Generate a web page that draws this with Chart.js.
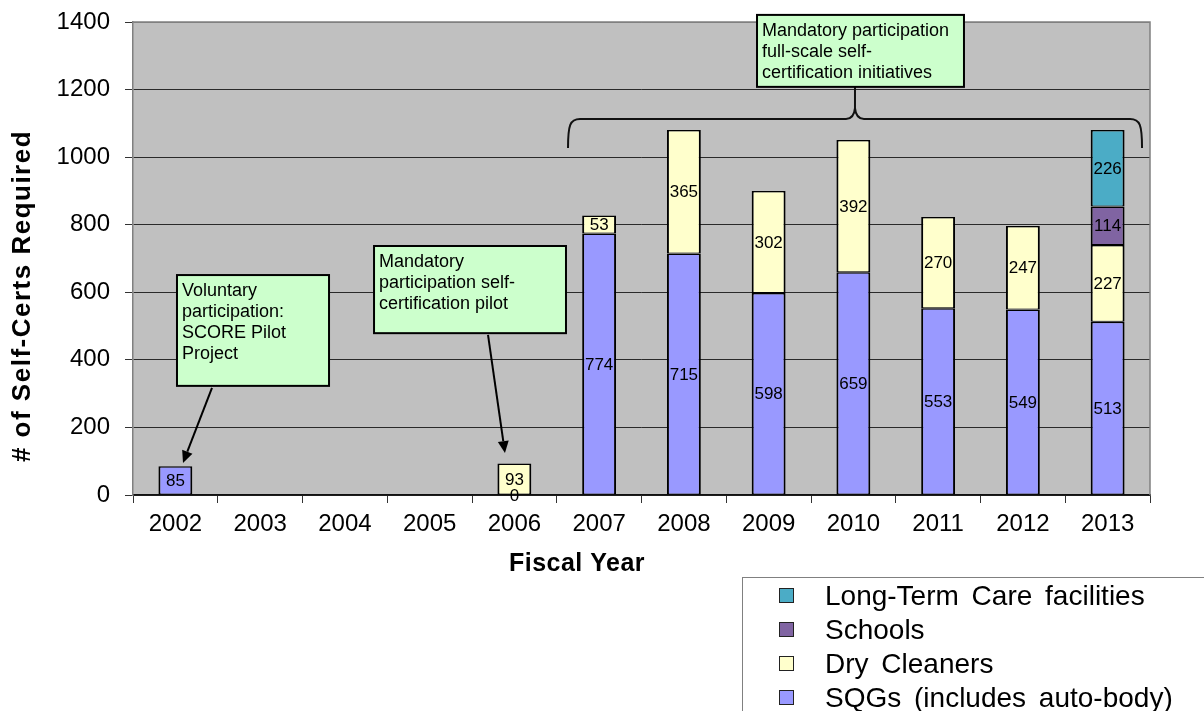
<!DOCTYPE html>
<html>
<head>
<meta charset="utf-8">
<script src="https://cdn.jsdelivr.net/npm/chart.js@4.4.1/dist/chart.umd.min.js"></script>
<style>
html,body{margin:0;padding:0;background:#fff;}
#wrap{width:1204px;height:711px;position:relative;}
</style>
</head>
<body>
<div id="wrap"><canvas id="c"></canvas></div>
<script>
// ---- data ----
const categories = ['2002','2003','2004','2005','2006','2007','2008','2009','2010','2011','2012','2013'];
const sqgs        = [85, null, null, null, 0, 774, 715, 598, 659, 553, 549, 513];
const dryCleaners = [null, null, null, null, 93, 53, 365, 302, 392, 270, 247, 227];
const schools     = [null, null, null, null, null, null, null, null, null, null, null, 114];
const longTerm    = [null, null, null, null, null, null, null, null, null, null, null, 226];
const seriesNames = ['SQGs (includes auto-body)', 'Dry Cleaners', 'Schools', 'Long-Term Care facilities'];
const seriesColors = ['#9999FF', '#FFFFCC', '#8064A2', '#4BACC6'];
const yTickMin = 0, yTickMax = 1400, yTickStep = 200;
const yTitle = '# of Self-Certs Required';
const xTitle = 'Fiscal Year';

// annotations in data units (x: category index, y: value)
const callouts = [
  { lines: ['Voluntary', 'participation:', 'SCORE Pilot', 'Project'], x0: 0.019, x1: 1.813, yTop: 651, yBot: 323 },
  { lines: ['Mandatory', 'participation self-', 'certification pilot'], x0: 2.344, x1: 4.609, yTop: 737, yBot: 479 },
  { lines: ['Mandatory participation', 'full-scale self-', 'certification initiatives'], x0: 6.863, x1: 9.305, yTop: 1421, yBot: 1208 }
];
const arrows = [
  { fx: 0.432, fy: 317, tx: 0.09, ty: 95 },
  { fx: 3.689, fy: 474, tx: 3.889, ty: 124 }
];
const brace = { left: 4.633, right: 11.406, center: 8.019, yLine: 1113, yEnd: 1027, yCusp: 1145, yTop: 1208 };

const FONT = "'Liberation Sans', Arial, sans-serif";

const drawPlugin = {
  id: 'drawPlugin',
  beforeDraw(chart) {
    const { ctx, chartArea: a } = chart;
    ctx.save();
    ctx.fillStyle = '#ffffff';
    ctx.fillRect(0, 0, chart.width, chart.height);
    ctx.fillStyle = '#C0C0C0';
    ctx.fillRect(a.left, a.top, a.right - a.left, a.bottom - a.top);
    ctx.restore();
  },
  beforeDatasetsDraw(chart) {
    const { ctx, chartArea: a } = chart;
    ctx.save();
    ctx.strokeStyle = '#808080';
    ctx.lineWidth = 1.5;
    ctx.beginPath();
    ctx.moveTo(a.left, a.top);
    ctx.lineTo(a.right, a.top);
    ctx.lineTo(a.right, a.bottom);
    ctx.stroke();
    ctx.restore();
  },
  afterDatasetsDraw(chart) {
    const { ctx } = chart;
    ctx.save();
    ctx.font = '17px ' + FONT;
    ctx.fillStyle = '#000';
    ctx.textAlign = 'center';
    ctx.textBaseline = 'middle';
    chart.data.datasets.forEach((ds, di) => {
      const meta = chart.getDatasetMeta(di);
      meta.data.forEach((el, i) => {
        const v = ds.data[i];
        if (v === null || v === undefined) return;
        const p = el.getProps(['x', 'y', 'base'], true);
        ctx.fillText(String(v), p.x, (p.y + p.base) / 2 + 1);
      });
    });
    ctx.restore();
  },
  afterDraw(chart) {
    const { ctx } = chart;
    const xs = chart.scales.x, ys = chart.scales.y;
    const px = v => xs.getPixelForValue(v);
    const py = v => ys.getPixelForValue(v);
    ctx.save();

    // brace
    const L = px(brace.left), R = px(brace.right), C = px(brace.center);
    const yl = py(brace.yLine), ye = py(brace.yEnd), yc = py(brace.yCusp), yt = py(brace.yTop);
    ctx.strokeStyle = '#111';
    ctx.lineWidth = 2;
    ctx.beginPath();
    ctx.moveTo(L, ye);
    ctx.bezierCurveTo(L, yl + 6, L + 2, yl, L + 12, yl);
    ctx.lineTo(C - 9, yl);
    ctx.quadraticCurveTo(C - 1, yl, C, yc);
    ctx.lineTo(C, yt);
    ctx.moveTo(C, yc);
    ctx.quadraticCurveTo(C + 1, yl, C + 9, yl);
    ctx.lineTo(R - 12, yl);
    ctx.bezierCurveTo(R - 2, yl, R, yl + 6, R, ye);
    ctx.stroke();

    // arrows
    arrows.forEach(ar => {
      const x1 = px(ar.fx), y1 = py(ar.fy), x2 = px(ar.tx), y2 = py(ar.ty);
      const ang = Math.atan2(y2 - y1, x2 - x1);
      const hl = 12, hw = 5.5;
      const bx = x2 - hl * Math.cos(ang), by = y2 - hl * Math.sin(ang);
      ctx.strokeStyle = '#000';
      ctx.lineWidth = 2;
      ctx.beginPath();
      ctx.moveTo(x1, y1);
      ctx.lineTo(bx, by);
      ctx.stroke();
      ctx.fillStyle = '#000';
      ctx.beginPath();
      ctx.moveTo(x2, y2);
      ctx.lineTo(bx + hw * Math.sin(ang), by - hw * Math.cos(ang));
      ctx.lineTo(bx - hw * Math.sin(ang), by + hw * Math.cos(ang));
      ctx.closePath();
      ctx.fill();
    });

    // callout boxes
    callouts.forEach(cb => {
      const x0 = px(cb.x0), x1 = px(cb.x1), y0 = py(cb.yTop), y1 = py(cb.yBot);
      ctx.fillStyle = '#CCFFCC';
      ctx.fillRect(x0, y0, x1 - x0, y1 - y0);
      ctx.strokeStyle = '#000';
      ctx.lineWidth = 2;
      ctx.strokeRect(x0, y0, x1 - x0, y1 - y0);
      ctx.fillStyle = '#000';
      ctx.font = '18px ' + FONT;
      ctx.textAlign = 'left';
      ctx.textBaseline = 'middle';
      cb.lines.forEach((t, i) => ctx.fillText(t, x0 + 5, y0 + 16 + i * 21));
    });

    // axis titles
    ctx.fillStyle = '#000';
    ctx.textAlign = 'center';
    ctx.textBaseline = 'middle';
    ctx.font = 'bold 25px ' + FONT;
    try { ctx.letterSpacing = '0.5px'; } catch (e) {}
    ctx.fillText(xTitle, 577, 564);
    try { ctx.letterSpacing = '1.5px'; } catch (e) {}
    ctx.font = 'bold 26px ' + FONT;
    ctx.save();
    ctx.translate(23, 296);
    ctx.rotate(-Math.PI / 2);
    ctx.fillText(yTitle, 0, 0);
    ctx.restore();
    try { ctx.letterSpacing = '0px'; } catch (e) {}

    // legend (reverse order)
    ctx.fillStyle = '#ffffff';
    ctx.fillRect(742.5, 577.5, 520, 200);
    ctx.strokeStyle = '#808080';
    ctx.lineWidth = 1;
    ctx.strokeRect(742.5, 577.5, 520, 200);
    ctx.font = '28px ' + FONT;
    ctx.textAlign = 'left';
    ctx.textBaseline = 'middle';
    try { ctx.wordSpacing = '5px'; } catch (e) {}
    const ds = chart.data.datasets;
    for (let k = ds.length - 1, row = 0; k >= 0; k--, row++) {
      const cy = 596 + row * 34;
      ctx.fillStyle = ds[k].backgroundColor;
      ctx.fillRect(779.5, cy - 7.5, 14, 14);
      ctx.strokeStyle = '#222';
      ctx.lineWidth = 1;
      ctx.strokeRect(779.5, cy - 7.5, 14, 14);
      ctx.fillStyle = '#000';
      ctx.fillText(ds[k].label, 825, cy + 1);
    }
    try { ctx.wordSpacing = '0px'; } catch (e) {}
    ctx.restore();
  }
};

const seriesData = [sqgs, dryCleaners, schools, longTerm];
const datasets = seriesData.map((d, i) => ({
  label: seriesNames[i],
  data: d,
  backgroundColor: seriesColors[i],
  borderColor: '#000',
  borderWidth: { left: 2, right: 2, top: 1.5, bottom: 1 },
  borderSkipped: false,
  barPercentage: 0.4,
  categoryPercentage: 1.0
}));

new Chart(document.getElementById('c'), {
  type: 'bar',
  data: { labels: categories, datasets },
  options: {
    responsive: true,
    maintainAspectRatio: false,
    animation: false,
    layout: { padding: { left: 0, top: 22, right: 54, bottom: 0 } },
    plugins: { legend: { display: false }, tooltip: { enabled: false } },
    scales: {
      x: {
        stacked: true,
        afterFit(s) { s.height = 216; s.paddingLeft = 0; s.paddingRight = 0; },
        grid: { offset: true, drawOnChartArea: false, drawTicks: true, tickLength: 8, tickColor: '#333', lineWidth: 1 },
        border: { color: '#111', width: 1.5 },
        ticks: { color: '#000', font: { family: FONT, size: 24 }, padding: 7, maxRotation: 0 }
      },
      y: {
        stacked: true,
        min: yTickMin,
        max: yTickMax,
        afterFit(s) { s.width = 133; s.paddingTop = 0; s.paddingBottom = 0; },
        grid: {
          color: c => (c.tick && c.tick.value === yTickMax) ? '#808080' : '#2a2a2a',
          tickColor: '#333',
          tickLength: 8,
          lineWidth: 1
        },
        border: { color: '#808080', width: 1.5 },
        ticks: { stepSize: yTickStep, color: '#000', font: { family: FONT, size: 24 }, padding: 15, callback: v => String(v) }
      }
    }
  },
  plugins: [drawPlugin]
});
</script>
</body>
</html>
